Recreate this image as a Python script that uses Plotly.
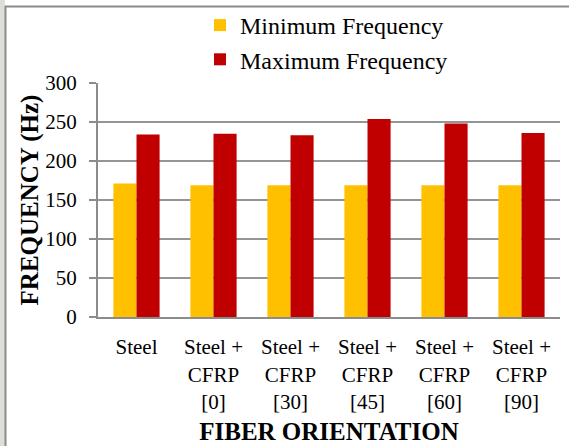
import plotly.graph_objects as go

# Frequency results for each specimen configuration
categories = ["Steel", "Steel + CFRP [0]", "Steel + CFRP [30]", "Steel + CFRP [45]",
              "Steel + CFRP [60]", "Steel + CFRP [90]"]
tick_labels = ["Steel", "Steel +<br>CFRP<br>[0]", "Steel +<br>CFRP<br>[30]",
               "Steel +<br>CFRP<br>[45]", "Steel +<br>CFRP<br>[60]", "Steel +<br>CFRP<br>[90]"]
min_freq = [171, 169, 169, 169, 169, 169]
max_freq = [234, 235, 233, 254, 248, 236]
y_ticks = [0, 50, 100, 150, 200, 250, 300]

W, H = 569, 446
L, R, T, B = 98, 9, 83, 129
PW, PH = W - L - R, H - T - B


def px_x(px):
    return (px - L) / PW


def px_y(py):
    return (H - B - py) / PH


FONT = "Liberation Serif"

fig = go.Figure()
fig.add_trace(go.Bar(x=categories, y=min_freq, name="Minimum Frequency",
                     marker=dict(color="#FFC000", line=dict(width=0)),
                     legendgroup="a"))
fig.add_trace(go.Bar(x=categories, y=max_freq, name="Maximum Frequency",
                     marker=dict(color="#C00000", line=dict(width=0)),
                     legendgroup="b"))

shapes = [
    # page strip on the left and the chart frame
    dict(type="rect", xref="paper", yref="paper", x0=px_x(-2), x1=px_x(5),
         y0=px_y(-2), y1=px_y(H + 2), fillcolor="#deded9", line=dict(width=0), layer="below"),
    dict(type="line", xref="paper", yref="paper", x0=px_x(5.5), x1=px_x(5.5),
         y0=px_y(6), y1=px_y(H + 2), line=dict(color="#8a8a8a", width=2)),
    dict(type="line", xref="paper", yref="paper", x0=px_x(5), x1=px_x(W + 2),
         y0=px_y(6.5), y1=px_y(6.5), line=dict(color="#8a8a8a", width=2)),
]

fig.update_layout(
    width=W, height=H,
    margin=dict(l=L, r=R, t=T, b=B, autoexpand=False),
    paper_bgcolor="white", plot_bgcolor="white",
    barmode="group", bargap=0.4, bargroupgap=0,
    font=dict(family=FONT, color="black"),
    showlegend=True,
    legend=dict(x=px_x(200), y=px_y(3), xanchor="left", yanchor="top",
                font=dict(family=FONT, size=24, color="black"),
                tracegroupgap=4, bgcolor="rgba(0,0,0,0)", traceorder="normal"),
    shapes=shapes,
    xaxis=dict(tickmode="array", tickvals=categories, ticktext=tick_labels,
               tickfont=dict(family=FONT, size=21, color="black"),
               showgrid=False, showline=True, linecolor="#8c8c8c", linewidth=2,
               ticks="", ticklabelstandoff=10,
               title=dict(text="<b>FIBER ORIENTATION</b>",
                          font=dict(family=FONT, size=25, color="black"), standoff=10)),
    yaxis=dict(range=[0, 300], tickmode="array", tickvals=y_ticks,
               tickfont=dict(family=FONT, size=21, color="black"),
               showgrid=True, gridcolor="#959595", gridwidth=2,
               showline=True, linecolor="#8c8c8c", linewidth=2,
               ticks="outside", ticklen=7, tickcolor="#8c8c8c", tickwidth=2,
               ticklabelstandoff=8, zeroline=False,
               title=dict(text="<b>FREQUENCY (Hz)</b>",
                          font=dict(family=FONT, size=25, color="black"), standoff=0)),
)

fig.write_html("out.html")
